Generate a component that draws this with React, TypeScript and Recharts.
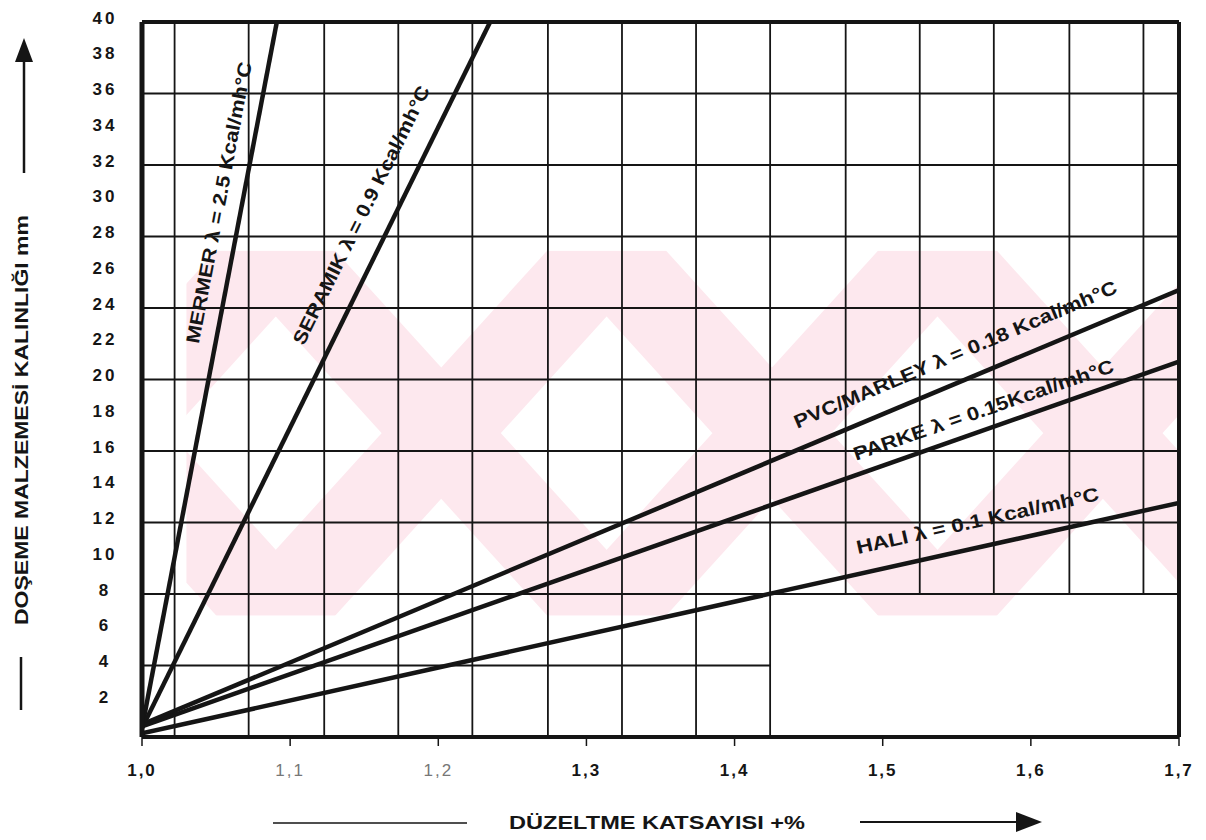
import {
  ComposedChart,
  Line,
  XAxis,
  YAxis,
  ReferenceLine,
  ReferenceArea,
  ReferenceDot,
} from 'recharts'

// düzeltme katsayısı (x) / döşeme kalınlığı mm (y)
const xTicks = [1.0, 1.1, 1.2, 1.3, 1.4, 1.5, 1.6, 1.7]
const xTickLabels = ['1,0', '1,1', '1,2', '1,3', '1,4', '1,5', '1,6', '1,7']
const yTicks = [2, 4, 6, 8, 10, 12, 14, 16, 18, 20, 22, 24, 26, 28, 30, 32, 34, 36, 38, 40]

// the nomogram grid: verticals every ~0.05 (offset from the ticks), horizontals every 4 mm
const gridX = [1.022, 1.072, 1.123, 1.173, 1.223, 1.274, 1.324, 1.374, 1.424, 1.475, 1.525, 1.575, 1.626, 1.676]
const gridY = [4, 8, 12, 16, 20, 24, 28, 32, 36]
// lower right corner of the sheet has no grid
const blankFromX = 1.424
const blankBelowY = 8

const mermer = [{ x: 1.0, y: 0.5 }, { x: 1.091, y: 40 }]
const seramik = [{ x: 1.0, y: 0.5 }, { x: 1.235, y: 40 }]
const pvc = [{ x: 1.0, y: 0.7 }, { x: 1.7, y: 25.0 }]
const parke = [{ x: 1.0, y: 0.6 }, { x: 1.7, y: 21.0 }]
const hali = [{ x: 1.0, y: 0.2 }, { x: 1.7, y: 13.1 }]

const labelTexts = [
  'MERMER λ = 2.5 Kcal/mh°C',
  'SERAMIK λ = 0.9 Kcal/mh°C',
  'PVC/MARLEY λ = 0.18 Kcal/mh°C',
  'PARKE λ = 0.15Kcal/mh°C',
  'HALI λ = 0.1 Kcal/mh°C',
]
const labelX = [1.052, 1.148, 1.549, 1.568, 1.564]
const labelY = [29.9, 29.2, 21.4, 18.3, 12.1]
const labelAngle = [-79.3, -63.7, -23, -19, -12.6]
const labelLength = [286, 286, 349, 274, 248]

// faint watermark behind the grid
const watermark = { x1: 1.03, x2: 1.7, y1: 6.8, y2: 27.2 }

const FONT = '"Liberation Sans", Arial, Helvetica, sans-serif'
const INK = '#151515'

function Watermark(p: any) {
  const { x, y, width, height } = p
  const cw = width / 3
  const t = cw * 0.36
  const shift = cw * 0.27
  const polys: string[] = []
  for (let i = -1; i < 4; i++) {
    const l = x + shift + i * cw
    polys.push(`${l - t / 2},${y} ${l + t / 2},${y} ${l + cw + t / 2},${y + height} ${l + cw - t / 2},${y + height}`)
    polys.push(`${l + cw - t / 2},${y} ${l + cw + t / 2},${y} ${l + t / 2},${y + height} ${l - t / 2},${y + height}`)
  }
  return (
    <g>
      <clipPath id="wmclip">
        <rect x={x} y={y} width={width} height={height} />
      </clipPath>
      <g clipPath="url(#wmclip)" fill="#fde8ee">
        {polys.map((pts, i) => (
          <polygon key={i} points={pts} />
        ))}
      </g>
    </g>
  )
}

function YTick(props: any) {
  const { x, y, payload } = props
  return (
    <text
      x={x - 37}
      y={y - 4}
      textAnchor="middle"
      dominantBaseline="central"
      fontFamily={FONT}
      fontWeight="bold"
      fontSize={17}
      letterSpacing={3}
      fill={INK}
    >
      {payload.value}
    </text>
  )
}

function XTick(props: any) {
  const { x, y, payload, index } = props
  const faint = index === 1 || index === 2
  return (
    <text
      x={x}
      y={y + 24}
      textAnchor="middle"
      dominantBaseline="central"
      fontFamily={FONT}
      fontWeight={faint ? 'normal' : 'bold'}
      fontSize={17}
      letterSpacing={2}
      fill={faint ? '#777' : INK}
    >
      {xTickLabels[xTicks.indexOf(payload.value)]}
    </text>
  )
}

function lineLabel(i: number) {
  return (p: any) => (
    <text
      x={p.cx}
      y={p.cy}
      transform={`rotate(${labelAngle[i]} ${p.cx} ${p.cy})`}
      textAnchor="middle"
      dominantBaseline="central"
      fontFamily={FONT}
      fontWeight="bold"
      fontSize={19}
      textLength={labelLength[i]}
      lengthAdjust="spacingAndGlyphs"
      fill={INK}
    >
      {labelTexts[i]}
    </text>
  )
}

export default function App() {
  const series = [mermer, seramik, pvc, parke, hali]
  return (
    <div style={{ position: 'absolute', left: 0, top: 0, width: 1206, height: 840, background: '#fff' }}>
      <ComposedChart width={1206} height={840} margin={{ top: 22, right: 27, bottom: 0, left: 0 }}>
        <XAxis
          type="number"
          dataKey="x"
          domain={[1, 1.7]}
          ticks={xTicks}
          allowDataOverflow
          height={103}
          axisLine={false}
          tickSize={9}
          tickMargin={0}
          tickLine={{ stroke: INK, strokeWidth: 1.5 }}
          tick={<XTick />}
        />
        <YAxis
          type="number"
          domain={[0, 40]}
          ticks={yTicks}
          allowDataOverflow
          width={142}
          axisLine={false}
          tickLine={false}
          tickSize={0}
          tickMargin={0}
          tick={<YTick />}
        />

        <ReferenceArea
          x1={watermark.x1}
          x2={watermark.x2}
          y1={watermark.y1}
          y2={watermark.y2}
          shape={(p: any) => <Watermark {...p} />}
        />

        {gridX.map((gx) => (
          <ReferenceLine
            key={`gx${gx}`}
            segment={[
              { x: gx, y: gx > blankFromX ? blankBelowY : 0 },
              { x: gx, y: 40 },
            ]}
            stroke={INK}
            strokeWidth={1.8}
          />
        ))}
        {gridY.map((gy) => (
          <ReferenceLine
            key={`gy${gy}`}
            segment={[
              { x: 1, y: gy },
              { x: gy < blankBelowY ? blankFromX : 1.7, y: gy },
            ]}
            stroke={INK}
            strokeWidth={1.8}
          />
        ))}

        {series.map((d, i) => (
          <Line
            key={i}
            data={d}
            dataKey="y"
            type="linear"
            stroke={INK}
            strokeWidth={4.5}
            dot={false}
            activeDot={false}
            isAnimationActive={false}
          />
        ))}

        <ReferenceLine x={1} stroke={INK} strokeWidth={5} />
        <ReferenceLine x={1.7} stroke={INK} strokeWidth={4} />
        <ReferenceLine y={0} stroke={INK} strokeWidth={4} />
        <ReferenceLine y={40} stroke={INK} strokeWidth={4} />

        {labelTexts.map((_, i) => (
          <ReferenceDot key={`lb${i}`} x={labelX[i]} y={labelY[i]} r={0} shape={lineLabel(i)} />
        ))}
      </ComposedChart>

      <svg
        width={1206}
        height={840}
        style={{ position: 'absolute', left: 0, top: 0, pointerEvents: 'none' }}
      >
        {/* y title with arrow */}
        <line x1={24} y1={173} x2={24} y2={58} stroke={INK} strokeWidth={2.5} />
        <polygon points="24,38 15,62 33,62" fill={INK} />
        <text
          x={21}
          y={420}
          transform="rotate(-90 21 420)"
          textAnchor="middle"
          dominantBaseline="central"
          fontFamily={FONT}
          fontWeight="bold"
          fontSize={19}
          textLength={410}
          lengthAdjust="spacingAndGlyphs"
          fill={INK}
        >
          DOŞEME MALZEMESİ KALINLIĞI mm
        </text>
        <line x1={21} y1={657} x2={21} y2={710} stroke={INK} strokeWidth={2.5} />

        {/* x title with arrow */}
        <line x1={273} y1={823} x2={467} y2={823} stroke={INK} strokeWidth={1.5} />
        <text
          x={657}
          y={822}
          textAnchor="middle"
          dominantBaseline="central"
          fontFamily={FONT}
          fontWeight="bold"
          fontSize={19}
          textLength={296}
          lengthAdjust="spacingAndGlyphs"
          fill={INK}
        >
          DÜZELTME KATSAYISI +%
        </text>
        <line x1={860} y1={822} x2={1020} y2={822} stroke={INK} strokeWidth={2} />
        <polygon points="1016,812 1042,822 1016,832" fill={INK} />
      </svg>
    </div>
  )
}
